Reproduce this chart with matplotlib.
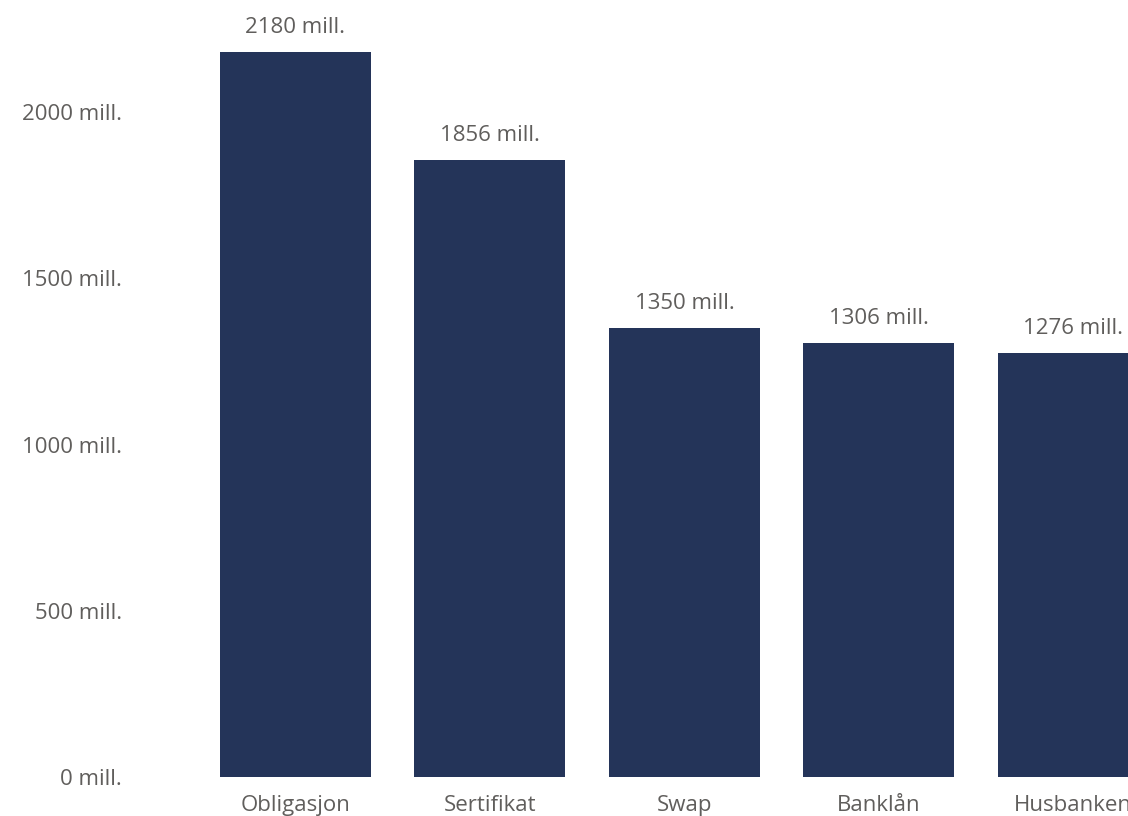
import matplotlib
matplotlib.use("Agg")
import matplotlib.pyplot as plt

plt.rcParams["font.family"] = ["Open Sans", "DejaVu Sans"]

# Data
categories = ["Obligasjon", "Sertifikat", "Swap", "Banklån", "Husbanken"]
values = [2180, 1856, 1350, 1306, 1276]
yticks = [0, 500, 1000, 1500, 2000]

bar_color = "#243459"
text_color = "#605E5C"

fig = plt.figure(figsize=(11.28, 8.16), dpi=100)
# axes runs past the right edge so the last bar is cut off as in the original
ax = fig.add_axes([0.1585, 0.0478, 0.862, 0.937])

x = range(len(categories))
ax.bar(x, values, width=0.776, color=bar_color)

for xi, v in zip(x, values):
    ax.annotate(f"{v} mill.", (xi, v), xytext=(0, 10), textcoords="offset points",
                ha="center", va="bottom", fontsize=16, color=text_color)

ax.set_xlim(-0.6, 4.4)
ax.set_ylim(0, 2300)
ax.set_xticks(list(x))
ax.set_xticklabels(categories)
ax.set_yticks(yticks)
ax.set_yticklabels([f"{t} mill." for t in yticks])

ax.tick_params(axis="both", length=0, labelsize=16, labelcolor=text_color)
ax.tick_params(axis="y", pad=41)
ax.tick_params(axis="x", pad=13)

for s in ax.spines.values():
    s.set_visible(False)

plt.savefig("out.png", dpi=100)
